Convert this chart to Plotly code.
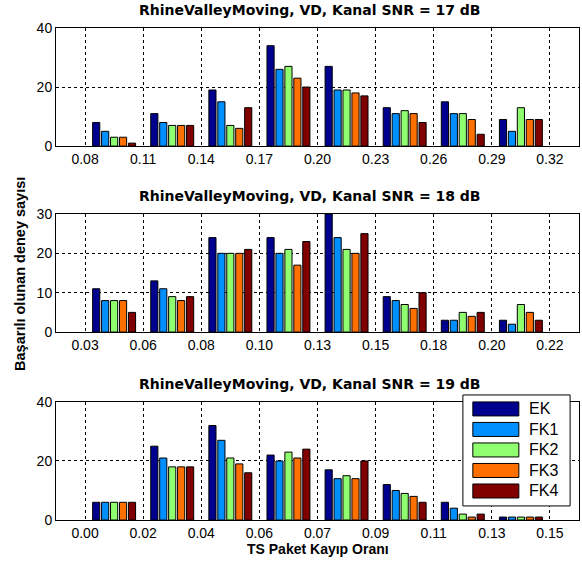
import plotly.graph_objects as go
import numpy as np

# ---------------- data ----------------
series_names = ["EK", "FK1", "FK2", "FK3", "FK4"]
series_colors = ["#00008F", "#008FFF", "#8FFF70", "#FF7000", "#800000"]

titles = [
    "RhineValleyMoving, VD, Kanal SNR = 17 dB",
    "RhineValleyMoving, VD, Kanal SNR = 18 dB",
    "RhineValleyMoving, VD, Kanal SNR = 19 dB",
]

ticks_17 = ["0.08", "0.11", "0.14", "0.17", "0.20", "0.23", "0.26", "0.29", "0.32"]
ticks_18 = ["0.03", "0.06", "0.08", "0.10", "0.13", "0.15", "0.18", "0.20", "0.22"]
ticks_19 = ["0.00", "0.02", "0.04", "0.06", "0.07", "0.09", "0.11", "0.13", "0.15"]

# counts per bin (8 bins), one list per series: EK, FK1, FK2, FK3, FK4
snr17_ek  = [8, 11, 19, 34, 27, 13, 15, 9]
snr17_fk1 = [5, 8, 15, 26, 19, 11, 11, 5]
snr17_fk2 = [3, 7, 7, 27, 19, 12, 11, 13]
snr17_fk3 = [3, 7, 6, 23, 18, 11, 9, 9]
snr17_fk4 = [1, 7, 13, 20, 17, 8, 4, 9]

snr18_ek  = [11, 13, 24, 24, 30, 9, 3, 3]
snr18_fk1 = [8, 11, 20, 20, 24, 8, 3, 2]
snr18_fk2 = [8, 9, 20, 21, 21, 7, 5, 7]
snr18_fk3 = [8, 8, 20, 17, 20, 6, 4, 5]
snr18_fk4 = [5, 9, 21, 23, 25, 10, 5, 3]

snr19_ek  = [6, 25, 32, 22, 17, 12, 6, 1]
snr19_fk1 = [6, 21, 27, 20, 14, 10, 4, 1]
snr19_fk2 = [6, 18, 21, 23, 15, 9, 2, 1]
snr19_fk3 = [6, 18, 19, 21, 14, 8, 1, 1]
snr19_fk4 = [6, 18, 16, 24, 20, 6, 2, 1]

y_ticks_17 = [0, 20, 40]
y_ticks_18 = [0, 10, 20, 30]
y_ticks_19 = [0, 20, 40]

panels = [
    (titles[0], ticks_17, [snr17_ek, snr17_fk1, snr17_fk2, snr17_fk3, snr17_fk4], y_ticks_17),
    (titles[1], ticks_18, [snr18_ek, snr18_fk1, snr18_fk2, snr18_fk3, snr18_fk4], y_ticks_18),
    (titles[2], ticks_19, [snr19_ek, snr19_fk1, snr19_fk2, snr19_fk3, snr19_fk4], y_ticks_19),
]

y_label = "Başarılı olunan deney sayısı"
x_label = "TS Paket Kayıp Oranı"

# ---------------- layout ----------------
W, H = 582, 567
ML, MR, MT, MB = 56, 3, 28, 47
domains = [(0.760, 1.0), (0.382, 0.622), (0.0, 0.240)]

FONT = "Liberation Sans, Arial, sans-serif"
TFONT = "DejaVu Sans, Liberation Sans, sans-serif"

fig = go.Figure()
layout = dict(
    width=W, height=H,
    margin=dict(l=ML, r=MR, t=MT, b=MB, pad=0),
    paper_bgcolor="white", plot_bgcolor="white",
    barmode="group", bargap=0.23, bargroupgap=0.2,
    showlegend=False,
    font=dict(family=FONT, size=13, color="black"),
)

annotations = []
shapes = []
for i, (title, xt, vals, yt) in enumerate(panels):
    n = i + 1
    xa = "x" if n == 1 else f"x{n}"
    ya = "y" if n == 1 else f"y{n}"
    nbins = len(vals[0])
    centers = np.arange(nbins) + 0.5
    for s, (name, col) in enumerate(zip(series_names, series_colors)):
        fig.add_trace(go.Bar(
            x=centers, y=vals[s], name=name, xaxis=xa, yaxis=ya,
            marker=dict(color=col, line=dict(color="black", width=1)),
            showlegend=False, offsetgroup=str(s),
        ))
    axis_common = dict(
        showline=True, mirror=True, linecolor="black", linewidth=1,
        showgrid=True, gridcolor="black", gridwidth=1, griddash="3px,3px",
        zeroline=False, ticks="", tickfont=dict(family=FONT, size=14, color="black"),
    )
    layout["xaxis" if n == 1 else f"xaxis{n}"] = dict(
        axis_common, domain=[0, 1], anchor=ya,
        range=[-0.5, len(xt) - 0.5], tickmode="array",
        tickvals=list(range(len(xt))), ticktext=xt,
    )
    layout["yaxis" if n == 1 else f"yaxis{n}"] = dict(
        axis_common, domain=list(domains[i]), anchor=xa,
        range=[yt[0], yt[-1]], tickmode="array", tickvals=yt,
        ticktext=[str(v) for v in yt],
    )
    annotations.append(dict(
        text="<b>%s</b>" % title, xref=f"{xa} domain", yref=f"{ya} domain",
        x=0.5, y=1.0, xshift=-8, yshift=18, xanchor="center", yanchor="middle",
        showarrow=False, font=dict(family=TFONT, size=14, color="black"),
    ))

# custom legend inside third panel
lx0, lx1, ly0, ly1 = 0.778, 0.983, 0.119, 1.059
shapes.append(dict(type="rect", xref="x3 domain", yref="y3 domain",
                   x0=lx0, x1=lx1, y0=ly0, y1=ly1,
                   fillcolor="white", line=dict(color="black", width=1), layer="above"))
row_h = 20.5 / 118.0
first_row = (520 - 409) / 118.0
sw_h = 14 / 118.0
for k, (name, col) in enumerate(zip(series_names, series_colors)):
    yc = first_row - k * row_h
    shapes.append(dict(type="rect", xref="x3 domain", yref="y3 domain",
                       x0=0.797, x1=0.885, y0=yc - sw_h / 2, y1=yc + sw_h / 2,
                       fillcolor=col, line=dict(color="black", width=1), layer="above"))
    annotations.append(dict(text=name, xref="x3 domain", yref="y3 domain",
                            x=0.900, y=yc, xanchor="left", yanchor="middle",
                            showarrow=False, font=dict(family=FONT, size=16, color="black")))

annotations.append(dict(text="<b>%s</b>" % y_label, xref="paper", yref="paper",
                        x=-0.069, y=0.5, xanchor="center", yanchor="middle", textangle=-90,
                        showarrow=False, font=dict(family=FONT, size=14.5, color="black")))
annotations.append(dict(text="<b>%s</b>" % x_label, xref="paper", yref="paper",
                        x=0.5, y=0, yshift=-29, xanchor="center", yanchor="middle",
                        showarrow=False, font=dict(family=FONT, size=14, color="black")))

layout["annotations"] = annotations
layout["shapes"] = shapes
fig.update_layout(**layout)
fig.write_html("out.html", config={"displayModeBar": False},
               post_script="document.body.style.margin='0';document.body.style.overflow='hidden';")
